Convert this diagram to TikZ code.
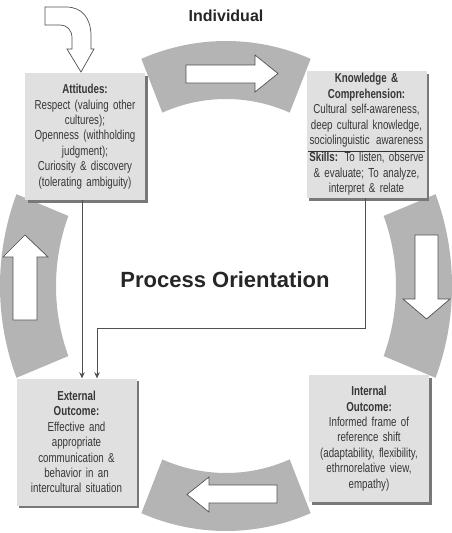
\documentclass[tikz,border=0pt]{standalone}
\usepackage{fontspec}
\setmainfont{Liberation Sans}
\newfontfamily\narrowfont[FakeStretch=0.75]{Liberation Sans}
\usepackage{xcolor}
\usepackage{tikz}
\usetikzlibrary{arrows.meta, shadows}
\definecolor{ringgray}{RGB}{180,180,180}
\definecolor{boxgray}{RGB}{224,224,224}
\definecolor{shadowgray}{RGB}{120,120,120}
\definecolor{textgray}{RGB}{55,55,55}
\definecolor{linegray}{RGB}{80,80,80}

\begin{document}
\begin{tikzpicture}[
    x=1pt, y=-1pt,
    card/.style={fill=boxgray, minimum width=120pt, minimum height=127pt, inner sep=0pt, text width=118pt, align=center, text=textgray, font=\narrowfont\fontsize{13}{15.4}\selectfont, drop shadow={shadow xshift=2.5pt, shadow yshift=-2.5pt, opacity=1, fill=shadowgray}},
    band/.style={fill=ringgray},
    blockarrow/.style={fill=white, draw=linegray, line width=0.7pt, line join=miter},
    conn/.style={draw=linegray, line width=0.8pt, -{Stealth[length=6pt, width=5.5pt]}},
    heading/.style={font=\bfseries\fontsize{16}{18}\selectfont, text=black!85},
]
\useasboundingbox (0,0) rectangle (452,533);

\begin{scope}[shift={(226,286)}]
\foreach \a in {0,90,180,270}
  \fill[band] (\a-22:226pt and 245pt) arc[start angle=\a-22, end angle=\a+22, x radius=226pt, y radius=245pt]
    -- (\a+22:170pt and 187pt) arc[start angle=\a+22, end angle=\a-22, x radius=170pt, y radius=187pt] -- cycle;
\end{scope}

\draw[blockarrow] (186,65) -- (255,65) -- (255,55) -- (278,73.5) -- (255,92) -- (255,83) -- (186,83) -- cycle;
\draw[blockarrow] (415,235) -- (438,235) -- (438,299) -- (450,299) -- (426.5,319) -- (403,299) -- (415,299) -- cycle;
\draw[blockarrow] (13,320) -- (13,257) -- (3,257) -- (25,235) -- (48,257) -- (37,257) -- (37,320) -- cycle;
\draw[blockarrow] (277,485) -- (209,485) -- (209,477) -- (187,494.5) -- (209,512) -- (209,503) -- (277,503) -- cycle;
\draw[blockarrow] (45,7) -- (66,7) .. controls (82,7) and (91,18) .. (91,36) -- (91,49) -- (94,49) -- (81,72)
  -- (67,49) -- (72,49) -- (72,38) .. controls (72,30) and (67,25) .. (60,25) -- (45,25) -- cycle;

\node[heading] (ind) at (226,16) {Individual};
\node[heading, font=\bfseries\fontsize{22}{26}\selectfont] (proc) at (225,280) {Process Orientation};

\node[card] (att) at (85,136.5) {\textbf{Attitudes:}\\Respect (valuing other\\cultures);\\Openness (withholding\\judgment);\\Curiosity \& discovery\\(tolerating ambiguity)};
\node[card] (know) at (366.5,134.5) {\textbf{Knowledge \&}\\\textbf{Comprehension:}\\Cultural self-awareness,\\deep cultural knowledge,\\sociolinguistic\enspace awareness\\[2pt]\textbf{Skills:}\enspace To listen, observe\\\& evaluate; To analyze,\\interpret \& relate};
\node[card] (ext) at (76.5,442) {\textbf{External}\\\textbf{Outcome:}\\Effective and\\appropriate\\communication \&\\behavior in an\\intercultural situation};
\node[card] (int) at (369,438.5) {\textbf{Internal}\\\textbf{Outcome:}\\Informed frame of\\reference shift\\(adaptability, flexibility,\\ethrnorelative view,\\empathy)};

\coordinate (rule) at (0,151);
\draw[black!80, line width=0.9pt] ([xshift=2pt]know.west |- rule) -- ([xshift=-2pt]know.east |- rule);

\coordinate (turn) at (97,328);
\draw[conn] ([xshift=-3pt]att.south) -- ([xshift=-3pt]att.south |- ext.north);
\draw[conn] ([xshift=-1.5pt]know.south) |- (turn) -- (turn |- ext.north);
\end{tikzpicture}
\end{document}
